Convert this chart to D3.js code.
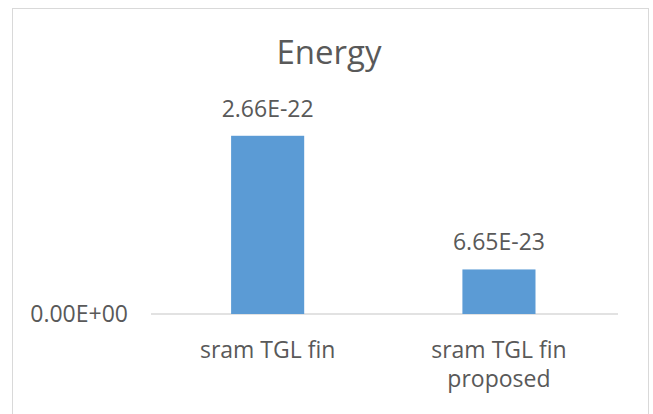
<!DOCTYPE html>
<html>
<head>
<meta charset="utf-8">
<script src="https://cdn.jsdelivr.net/npm/d3@7"></script>
<style>
  body { margin: 0; background: #fff; }
  text { font-family: "Open Sans", "Noto Sans", sans-serif; fill: #595959; }
</style>
</head>
<body>
<script>
// chart data
const categories = ["sram TGL fin", "sram TGL fin proposed"];
const energy = [2.66e-22, 6.65e-23];
const valueLabels = ["2.66E-22", "6.65E-23"];
const yTicks = [0];
const yTickLabels = ["0.00E+00"];

const W = 653, H = 414;
const svg = d3.select("body").append("svg")
    .attr("width", W)
    .attr("height", H);

// chart area border
svg.append("rect")
    .attr("x", 12.5).attr("y", 8.5)
    .attr("width", 636).attr("height", 410)
    .attr("fill", "#fff")
    .attr("stroke", "#d9d9d9");

const x = d3.scaleBand()
    .domain(categories)
    .range([152, 614.6])
    .paddingInner(0.684)
    .paddingOuter(0.342);

const y = d3.scaleLinear()
    .domain([0, 3e-22])
    .range([314, 113]);

// title
svg.append("text")
    .attr("x", 329).attr("y", 64)
    .attr("text-anchor", "middle")
    .attr("font-size", 33)
    .text("Energy");

// baseline
svg.append("line")
    .attr("x1", 151).attr("x2", 618)
    .attr("y1", y(0)).attr("y2", y(0))
    .attr("stroke", "#d9d9d9")
    .attr("stroke-width", 1.5);

// bars
svg.selectAll(".bar")
  .data(energy)
  .join("rect")
    .attr("class", "bar")
    .attr("x", (d, i) => x(categories[i]))
    .attr("y", d => y(d))
    .attr("width", x.bandwidth())
    .attr("height", d => y(0) - y(d))
    .attr("fill", "#5b9bd5");

// data labels
svg.selectAll(".vlabel")
  .data(energy)
  .join("text")
    .attr("class", "vlabel")
    .attr("x", (d, i) => x(categories[i]) + x.bandwidth() / 2)
    .attr("y", d => y(d) - 19)
    .attr("text-anchor", "middle")
    .attr("font-size", 23)
    .text((d, i) => valueLabels[i]);

// category labels, wrapped like excel
function wrap(label, maxChars) {
  const words = label.split(" ");
  const lines = [];
  let cur = "";
  words.forEach(w => {
    const test = cur ? cur + " " + w : w;
    if (test.length > maxChars && cur) { lines.push(cur); cur = w; }
    else cur = test;
  });
  lines.push(cur);
  return lines;
}

categories.forEach(c => {
  const t = svg.append("text")
      .attr("text-anchor", "middle")
      .attr("font-size", 23);
  wrap(c, 14).forEach((line, k) => {
    t.append("tspan")
        .attr("x", x(c) + x.bandwidth() / 2)
        .attr("y", 358 + k * 29)
        .text(line);
  });
});

// y tick label
const yAxis = svg.append("g")
    .attr("transform", "translate(128,0)")
    .call(d3.axisLeft(y).tickValues(yTicks).tickSize(0)
      .tickFormat((d, i) => yTickLabels[i]));
yAxis.select(".domain").remove();
yAxis.selectAll("text")
    .attr("font-size", 23)
    .attr("fill", "#595959")
    .style("font-family", "'Open Sans', sans-serif")
    .attr("x", 0);
</script>
</body>
</html>
